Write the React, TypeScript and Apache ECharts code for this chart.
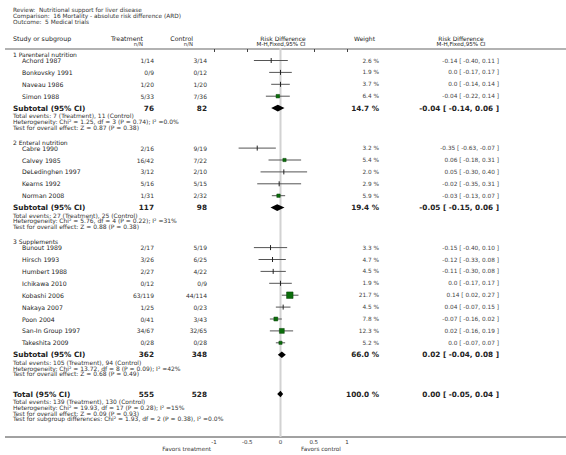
import React, { useEffect, useRef } from "react";
import * as echarts from "echarts";

const titleLines = [
  "Review:  Nutritional support for liver disease",
  "Comparison:  16 Mortality - absolute risk difference (ARD)",
  "Outcome:  5 Medical trials",
];

const groupNames = ["1 Parenteral nutrition", "2 Enteral nutrition", "3 Supplements"];
const studyGroup = [0, 0, 0, 0, 1, 1, 1, 1, 1, 2, 2, 2, 2, 2, 2, 2, 2, 2];
const studyNames = [
  "Achord 1987", "Bonkovsky 1991", "Naveau 1986", "Simon 1988",
  "Cabre 1990", "Calvey 1985", "DeLedinghen 1997", "Kearns 1992", "Norman 2008",
  "Bunout 1989", "Hirsch 1993", "Humbert 1988", "Ichikawa 2010", "Kobashi 2006",
  "Nakaya 2007", "Poon 2004", "San-In Group 1997", "Takeshita 2009",
];
const treatEvents = [1, 0, 1, 5, 2, 16, 3, 5, 1, 2, 3, 2, 0, 63, 1, 0, 34, 0];
const treatTotal = [14, 9, 20, 33, 16, 42, 12, 16, 31, 17, 26, 27, 12, 119, 25, 41, 67, 28];
const ctrlEvents = [3, 0, 1, 7, 9, 7, 2, 5, 2, 5, 6, 4, 0, 44, 0, 3, 32, 0];
const ctrlTotal = [14, 12, 20, 36, 19, 22, 10, 15, 32, 19, 25, 22, 9, 114, 23, 43, 65, 28];
const weights = [2.6, 1.9, 3.7, 6.4, 3.2, 5.4, 2.0, 2.9, 5.9, 3.3, 4.7, 4.5, 1.9, 21.7, 4.5, 7.8, 12.3, 5.2];
const rd = [-0.14, 0, 0, -0.04, -0.35, 0.06, 0.05, -0.02, -0.03, -0.15, -0.12, -0.11, 0, 0.14, 0.04, -0.07, 0.02, 0];
const rdLow = [-0.4, -0.17, -0.14, -0.22, -0.63, -0.18, -0.3, -0.35, -0.13, -0.4, -0.33, -0.3, -0.17, 0.02, -0.07, -0.16, -0.16, -0.07];
const rdHigh = [0.11, 0.17, 0.14, 0.14, -0.07, 0.31, 0.4, 0.31, 0.07, 0.1, 0.08, 0.08, 0.17, 0.27, 0.15, 0.02, 0.19, 0.07];

const subTreat = [76, 117, 362];
const subCtrl = [82, 98, 348];
const subWeight = [14.7, 19.4, 66.0];
const subRd = [-0.04, -0.05, 0.02];
const subLow = [-0.14, -0.15, -0.04];
const subHigh = [0.06, 0.06, 0.08];
const subEventsT = [7, 27, 105];
const subEventsC = [11, 25, 94];
const subChi = [1.25, 5.76, 13.72];
const subDf = [3, 4, 8];
const subHetP = [0.74, 0.22, 0.09];
const subI2 = ["0.0%", "31%", "42%"];
const subZ = [0.87, 0.88, 0.68];
const subZP = [0.38, 0.38, 0.49];

const totalN = [555, 528];
const totalWeight = 100.0;
const totalRd = [0.0, -0.05, 0.04];
const totalEvents = [139, 130];
const totalHet = { chi: 19.93, df: 17, p: 0.28, i2: "15%" };
const totalZ = { z: 0.09, p: 0.93 };
const subgroupDiff = { chi: 1.93, df: 2, p: 0.38, i2: "0.0%" };

const xTicks = [-1, -0.5, 0, 0.5, 1];

// layout (pixels)
const W = 566;
const H = 455;
const GRID_TOP = 49;
const GRID_BOTTOM = 437;
const X_LEFT = 214;
const X_RIGHT = 347;
const FONT = "DejaVu Sans";
const FOOT_SIZE = 6.0;
const FOOT_FIRST = 7.5;
const FOOT_STEP = 5.8;
const BOLD_SIZE = 7.3;

const fmtStudy = (v: number) => (v === 0 ? "0.0" : v.toFixed(2));
const fmt2 = (v: number) => v.toFixed(2);

function buildLayout() {
  const groupY: number[] = [];
  const studyY: number[] = [];
  const subY: number[] = [];
  let y = 54.5;
  for (let g = 0; g < groupNames.length; g++) {
    groupY.push(y);
    const idx = studyGroup.map((gg, i) => (gg === g ? i : -1)).filter((i) => i >= 0);
    idx.forEach((i, k) => {
      studyY[i] = y + 6 + k * 11.9;
    });
    const sy = y + 6 + idx.length * 11.9;
    subY.push(sy);
    y = sy + 34;
  }
  const totalY = subY[subY.length - 1] + 39.3;
  return { groupY, studyY, subY, totalY };
}

export default function App() {
  const ref = useRef<HTMLDivElement>(null);
  useEffect(() => {
    if (!ref.current) return;
    const chart = echarts.init(ref.current, undefined, { renderer: "svg" });
    const L = buildLayout();
    const toAxisY = (py: number) => py - GRID_TOP;

    const texts: any[] = [];
    const txt = (
      text: string,
      x: number,
      y: number,
      size: number,
      align = "left",
      opts: any = {}
    ) => {
      texts.push({
        type: "text",
        x,
        y,
        silent: true,
        style: {
          text,
          fontSize: size,
          fontFamily: FONT,
          fontWeight: opts.bold ? "bold" : "normal",
          fill: opts.color || "#222",
          align,
          verticalAlign: "middle",
        },
      });
    };

    // title
    const titleY = [10, 16, 22];
    titleLines.forEach((t, i) => txt(t, 13, titleY[i], 5.8, "left", { color: "#333" }));

    // headers
    txt("Study or subgroup", 13, 38, 6.3);
    txt("Treatment", 143, 38, 6.3, "right");
    txt("n/N", 143, 44, 5.4, "right", { color: "#444" });
    txt("Control", 193, 38, 6.3, "right");
    txt("n/N", 193, 44, 5.4, "right", { color: "#444" });
    txt("Risk Difference", 283, 38, 6.0, "center");
    txt("M-H,Fixed,95% CI", 281, 44, 5.6, "center");
    txt("Weight", 375, 38, 6.0, "right");
    txt("Risk Difference", 461, 38, 6.0, "center");
    txt("M-H,Fixed,95% CI", 461, 44, 5.6, "center");

    // groups
    groupNames.forEach((g, gi) => txt(g, 13, L.groupY[gi], 6.0, "left"));
    studyNames.forEach((n, i) => {
      const y = L.studyY[i];
      txt(n, 22, y, 6.2, "left");
      txt(`${treatEvents[i]}/${treatTotal[i]}`, 154, y, 6.0, "right", { color: "#333" });
      txt(`${ctrlEvents[i]}/${ctrlTotal[i]}`, 207, y, 6.0, "right", { color: "#333" });
      txt(`${weights[i].toFixed(1)} %`, 379, y, 5.8, "right", { color: "#444" });
      txt(
        `${fmtStudy(rd[i])} [ ${fmt2(rdLow[i])}, ${fmt2(rdHigh[i])} ]`,
        499,
        y,
        5.8,
        "right",
        { color: "#444" }
      );
    });
    groupNames.forEach((_, g) => {
      const y = L.subY[g];
      txt("Subtotal (95% CI)", 13, y, BOLD_SIZE, "left", { bold: true });
      txt(String(subTreat[g]), 154, y, BOLD_SIZE, "right", { bold: true });
      txt(String(subCtrl[g]), 207, y, BOLD_SIZE, "right", { bold: true });
      txt(`${subWeight[g].toFixed(1)} %`, 379, y, BOLD_SIZE, "right", { bold: true });
      txt(
        `${fmt2(subRd[g])} [ ${fmt2(subLow[g])}, ${fmt2(subHigh[g])} ]`,
        499,
        y,
        BOLD_SIZE,
        "right",
        { bold: true }
      );
      const foot = [
        `Total events: ${subEventsT[g]} (Treatment), ${subEventsC[g]} (Control)`,
        `Heterogeneity: Chi² = ${subChi[g].toFixed(2)}, df = ${subDf[g]} (P = ${subHetP[g].toFixed(2)}); I² =${subI2[g]}`,
        `Test for overall effect: Z = ${subZ[g].toFixed(2)} (P = ${subZP[g].toFixed(2)})`,
      ];
      foot.forEach((f, k) =>
        txt(f, 13, y + FOOT_FIRST + k * FOOT_STEP, FOOT_SIZE, "left", { color: "#333" })
      );
    });
    {
      const y = L.totalY;
      txt("Total (95% CI)", 13, y, BOLD_SIZE, "left", { bold: true });
      txt(String(totalN[0]), 154, y, BOLD_SIZE, "right", { bold: true });
      txt(String(totalN[1]), 207, y, BOLD_SIZE, "right", { bold: true });
      txt(`${totalWeight.toFixed(1)} %`, 379, y, BOLD_SIZE, "right", { bold: true });
      txt(
        `${fmt2(totalRd[0])} [ ${fmt2(totalRd[1])}, ${fmt2(totalRd[2])} ]`,
        499,
        y,
        BOLD_SIZE,
        "right",
        { bold: true }
      );
      const foot = [
        `Total events: ${totalEvents[0]} (Treatment), ${totalEvents[1]} (Control)`,
        `Heterogeneity: Chi² = ${totalHet.chi.toFixed(2)}, df = ${totalHet.df} (P = ${totalHet.p.toFixed(2)}); I² =${totalHet.i2}`,
        `Test for overall effect: Z = ${totalZ.z.toFixed(2)} (P = ${totalZ.p.toFixed(2)})`,
        `Test for subgroup differences: Chi² = ${subgroupDiff.chi.toFixed(2)}, df = ${subgroupDiff.df} (P = ${subgroupDiff.p.toFixed(2)}), I² =${subgroupDiff.i2}`,
      ];
      foot.forEach((f, k) =>
        txt(f, 13, y + FOOT_FIRST + k * FOOT_STEP, FOOT_SIZE, "left", { color: "#333" })
      );
    }
    txt("Favors treatment", 211, 449, 5.7, "right", { color: "#333" });
    txt("Favors control", 301, 449, 5.7, "left", { color: "#333" });

    const lines = [
      { type: "line", silent: true, shape: { x1: 5, y1: GRID_TOP, x2: W, y2: GRID_TOP }, style: { stroke: "#999", lineWidth: 1.5 } },
      { type: "line", silent: true, shape: { x1: 5, y1: GRID_BOTTOM, x2: W, y2: GRID_BOTTOM }, style: { stroke: "#444", lineWidth: 1 } },
    ];

    const studyData = studyNames.map((_, i) => [rdLow[i], rdHigh[i], rd[i], toAxisY(L.studyY[i]), weights[i]]);
    const diamondData = [
      ...subRd.map((v, g) => [subLow[g], subHigh[g], v, toAxisY(L.subY[g])]),
      [totalRd[1], totalRd[2], totalRd[0], toAxisY(L.totalY)],
    ];

    chart.setOption({
      animation: false,
      grid: {
        left: X_LEFT,
        right: W - X_RIGHT,
        top: GRID_TOP,
        bottom: H - GRID_BOTTOM,
        containLabel: false,
      },
      xAxis: {
        type: "value",
        min: xTicks[0],
        max: xTicks[xTicks.length - 1],
        interval: 0.5,
        axisLine: { show: false },
        axisTick: { show: true, length: 3, lineStyle: { color: "#444", width: 1 } },
        axisLabel: { fontSize: 5.5, fontFamily: FONT, color: "#333", margin: 2 },
        splitLine: { show: false },
      },
      yAxis: {
        type: "value",
        min: 0,
        max: GRID_BOTTOM - GRID_TOP,
        inverse: true,
        show: false,
      },
      series: [
        {
          type: "line",
          z: 1,
          silent: true,
          symbol: "none",
          data: [
            [0, -2],
            [0, GRID_BOTTOM - GRID_TOP],
          ],
          lineStyle: { color: "#d2d2d2", width: 2 },
        },
        {
          type: "custom",
          z: 3,
          clip: false,
          silent: true,
          data: studyData,
          encode: { x: [0, 1, 2], y: 3 },
          renderItem: (params: any, api: any) => {
            const yv = api.value(3);
            const lo = api.coord([api.value(0), yv]);
            const hi = api.coord([api.value(1), yv]);
            const c = api.coord([api.value(2), yv]);
            const w = api.value(4);
            const children: any[] = [
              {
                type: "line",
                shape: { x1: lo[0], y1: lo[1], x2: hi[0], y2: hi[1] },
                style: { stroke: "#555", lineWidth: 1 },
              },
            ];
            if (w >= 5) {
              const s = 1.4 * Math.sqrt(w);
              children.push({
                type: "rect",
                shape: { x: c[0] - s / 2, y: c[1] - s / 2, width: s, height: s },
                style: { fill: "#0b6e0b", stroke: "#064006", lineWidth: 0.5 },
              });
            } else {
              children.push({
                type: "line",
                shape: { x1: c[0], y1: c[1] - 2.5, x2: c[0], y2: c[1] + 2.5 },
                style: { stroke: "#222", lineWidth: 1 },
              });
            }
            return { type: "group", children };
          },
        },
        {
          type: "custom",
          z: 3,
          clip: false,
          silent: true,
          data: diamondData,
          encode: { x: [0, 1, 2], y: 3 },
          renderItem: (params: any, api: any) => {
            const yv = api.value(3);
            const lo = api.coord([api.value(0), yv]);
            const hi = api.coord([api.value(1), yv]);
            const c = api.coord([api.value(2), yv]);
            const h = 3.3;
            return {
              type: "polygon",
              shape: {
                points: [
                  [lo[0], lo[1]],
                  [c[0], c[1] - h],
                  [hi[0], hi[1]],
                  [c[0], c[1] + h],
                ],
              },
              style: { fill: "#000" },
            };
          },
        },
      ],
      graphic: [...lines, ...texts],
    });
    return () => chart.dispose();
  }, []);
  return (
    <div
      ref={ref}
      style={{ position: "absolute", left: 0, top: 0, width: W, height: H, background: "#fff" }}
    />
  );
}
